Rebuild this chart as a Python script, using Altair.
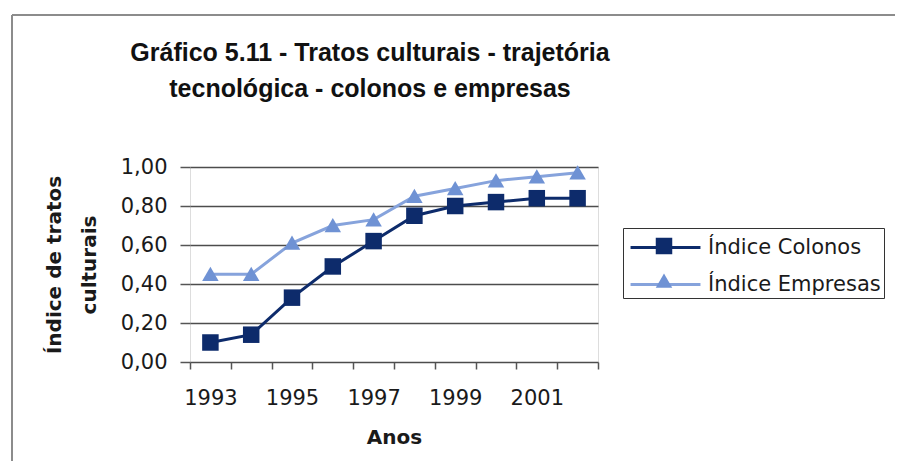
import altair as alt
import pandas as pd

anos = ["1993", "1994", "1995", "1996", "1997", "1998", "1999", "2000", "2001", "2002"]
colonos = [0.10, 0.14, 0.33, 0.49, 0.62, 0.75, 0.80, 0.82, 0.84, 0.84]
empresas = [0.45, 0.45, 0.61, 0.70, 0.73, 0.85, 0.89, 0.93, 0.95, 0.97]
series = ["Índice Colonos", "Índice Empresas"]
cores_linha = ["#0d2b6b", "#86a3dc"]
cores_marcador = ["#0d2b6b", "#6f92d4"]
titulo = ["Gráfico 5.11 - Tratos culturais - trajetória", "tecnológica - colonos e empresas"]
titulo_y = ["Índice de tratos", "culturais"]
titulo_x = "Anos"
y_ticks = [0.0, 0.2, 0.4, 0.6, 0.8, 1.0]

# marker shapes (unit paths, scaled by sqrt(size)/2)
forma_quadrado = "M-0.55,-0.55H0.55V0.55H-0.55Z"
forma_triangulo = "M0,-0.5L0.55,0.45H-0.55Z"
forma_linha = "M-2.33,0H2.33"

df = pd.DataFrame({
    "ano": anos * 2,
    "serie": [series[0]] * len(anos) + [series[1]] * len(anos),
    "valor": colonos + empresas,
})
df["serie_linha"] = df["serie"]

FONT = "DejaVu Sans"

x_enc = alt.X(
    "ano:O",
    scale=alt.Scale(type="band", paddingInner=0, paddingOuter=0),
    axis=alt.Axis(
        title=titulo_x, titleFont=FONT, titleFontSize=20, titleFontWeight="bold",
        titleColor="#1a1a1a", titleY=81, titleBaseline="alphabetic",
        labelFont=FONT, labelFontSize=21, labelColor="#1a1a1a", labelAngle=0,
        labelExpr="toNumber(datum.value) % 2 == 1 ? datum.label : ''",
        labelBaseline="alphabetic", labelPadding=35, labelOverlap=False,
        tickBand="extent", tickSize=7, tickColor="#555555", tickWidth=1.5,
        domain=False, grid=False,
    ),
)
y_enc = alt.Y(
    "valor:Q",
    scale=alt.Scale(domain=[0, 1], nice=False, zero=True),
    axis=alt.Axis(
        values=y_ticks, title=titulo_y, titleFont=FONT, titleFontSize=20,
        titleFontWeight="bold", titleColor="#1a1a1a", titleAngle=-90,
        titleX=-126, titleY=97.5, titleAlign="center", titleBaseline="bottom",
        titleLineHeight=35,
        labelExpr="replace(format(datum.value, '.2f'), '.', ',')",
        labelFont=FONT, labelFontSize=21, labelColor="#1a1a1a", labelPadding=13,
        tickSize=10, tickColor="#555555", tickWidth=1.5,
        grid=True, gridColor="#4d4d4d", gridWidth=1.3, domain=False,
    ),
)

legend_common = dict(
    orient="none", legendX=433, legendY=61, title=None,
    symbolSize=900, labelFont=FONT, labelFontSize=21, labelColor="#1a1a1a",
    labelOffset=26, symbolOffset=23, labelLimit=400, padding=3, rowPadding=10,
)

leg_linha = alt.Legend(
    symbolType=forma_linha, symbolStrokeWidth=3, strokeColor="#333333",
    labelExpr="datum.label + '\u00a0\u00a0\u00a0'", zindex=0, **legend_common,
)
leg_marcador = alt.Legend(
    symbolStrokeWidth=0, labelExpr="''", zindex=1, **legend_common,
)

linhas = alt.Chart(df).mark_line(strokeWidth=3).encode(
    x=x_enc, y=y_enc,
    stroke=alt.Stroke("serie_linha:N", scale=alt.Scale(range=cores_linha), legend=leg_linha),
)
pontos = alt.Chart(df).mark_point(filled=True, size=900, opacity=1, strokeWidth=0).encode(
    x=x_enc, y=y_enc,
    fill=alt.Fill("serie:N", scale=alt.Scale(range=cores_marcador), legend=leg_marcador),
    shape=alt.Shape("serie:N", scale=alt.Scale(range=[forma_quadrado, forma_triangulo]), legend=leg_marcador),
)

moldura_dados = alt.Data(values=[{"k": 1}])
moldura_topo = alt.Chart(moldura_dados).mark_rule(color="#8c8c8c", strokeWidth=2).encode(
    x=alt.value(-178), x2=alt.value(715), y=alt.value(-152)
)
moldura_esq = alt.Chart(moldura_dados).mark_rule(color="#8c8c8c", strokeWidth=2).encode(
    x=alt.value(-178), y=alt.value(-152), y2=alt.value(304)
)

chart = alt.layer(moldura_topo, moldura_esq, linhas, pontos).properties(
    width=408,
    height=195,
    title=alt.TitleParams(
        text=titulo, font="Liberation Sans", fontSize=25, fontWeight="bold",
        color="#111111", anchor="middle", dx=-24, offset=-113, lineHeight=36.5,
        baseline="bottom",
    ),
    autosize=alt.AutoSizeParams(type="none"),
    padding={"left": 182, "top": 159, "right": 297, "bottom": 99},
).configure_view(
    stroke="#6b6b6b", strokeWidth=2, fill="#b9bdc4"
).configure(background="white")

chart.save("out.html", embed_options={"renderer": "svg", "actions": False})
